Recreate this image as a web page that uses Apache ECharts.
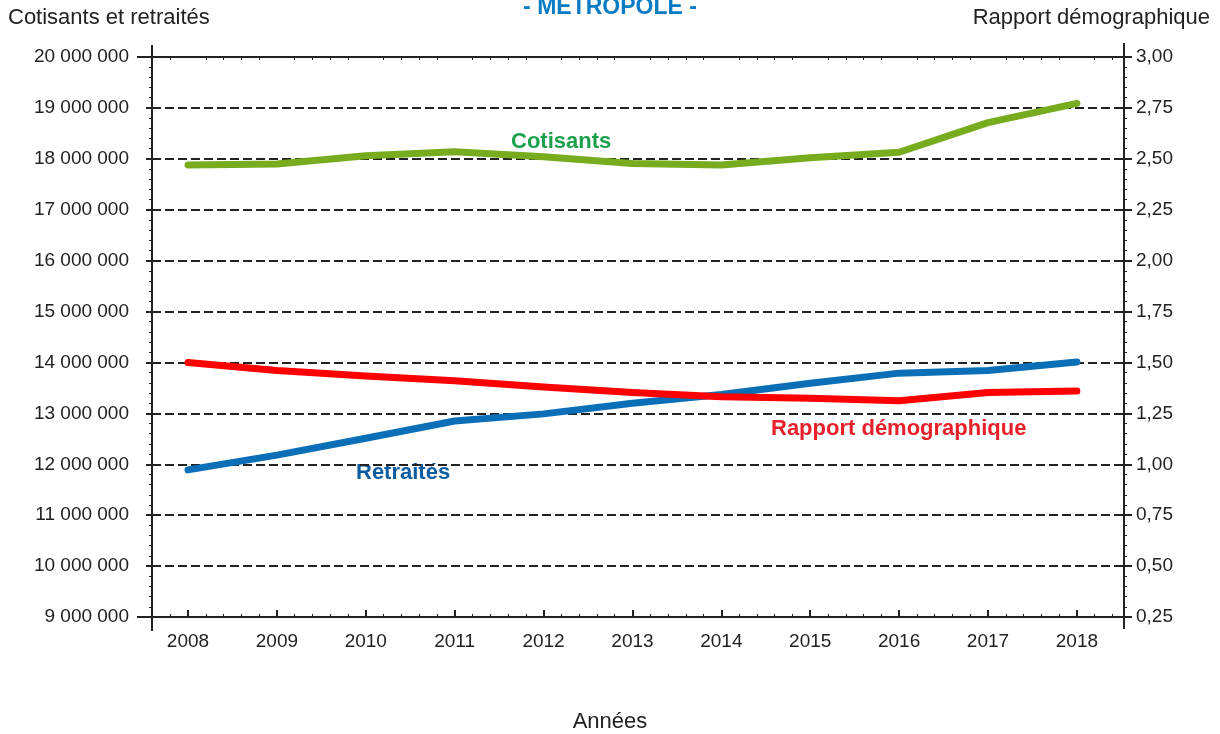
<!DOCTYPE html>
<html>
<head>
<meta charset="utf-8">
<script src="https://cdn.jsdelivr.net/npm/echarts@6/dist/echarts.min.js"></script>
<style>
  html, body { margin: 0; padding: 0; background: #fff; }
  #main { width: 1220px; height: 734px; }
</style>
</head>
<body>
<div id="main"></div>
<script>
const years = [2008, 2009, 2010, 2011, 2012, 2013, 2014, 2015, 2016, 2017, 2018];
const cotisants = [17880000, 17900000, 18060000, 18140000, 18040000, 17910000, 17880000, 18020000, 18130000, 18710000, 19090000];
const retraites = [11890000, 12180000, 12510000, 12850000, 12990000, 13200000, 13370000, 13590000, 13790000, 13840000, 14010000];
const rapport = [1.50, 1.46, 1.433, 1.41, 1.38, 1.353, 1.332, 1.324, 1.312, 1.352, 1.36];

const font = '"Liberation Sans", Arial, sans-serif';
const ink = '#222';

const pairs = arr => years.map((y, i) => [y, arr[i]]);
const fmtMillions = v => String(v).replace(/\B(?=(\d{3})+(?!\d))/g, ' ');
const fmtRatio = v => v.toFixed(2).replace('.', ',');

const chart = echarts.init(document.getElementById('main'));

const xBase = {
  type: 'value',
  min: 2007.595,
  max: 2018.53,
  splitNumber: 10,
  axisLine: { show: true, onZero: false, lineStyle: { color: ink, width: 2 } },
  splitLine: { show: false }
};

// frame overshoots of the axis lines, as in the original
const frame = [
  [137, 57, 152, 57], [137, 617, 152, 617],
  [152, 45, 152, 57], [152, 617, 152, 631],
  [1124, 43, 1124, 57], [1124, 617, 1124, 629]
].map(([x1, y1, x2, y2]) => ({
  type: 'line',
  shape: { x1, y1, x2, y2 },
  style: { stroke: ink, lineWidth: 2 },
  z: 10
}));

const option = {
  animation: false,
  grid: { left: 152, right: 96, top: 57, bottom: 117 },
  graphic: frame.concat([
    { type: 'text', left: 'center', top: -4, style: { text: '- MÉTROPOLE -', fill: '#0a7cc4', font: 'bold 23px ' + font } },
    { type: 'text', left: 8, top: 7, style: { text: 'Cotisants et retraités', fill: ink, font: '22px ' + font } },
    { type: 'text', right: 10, top: 7, style: { text: 'Rapport démographique', fill: ink, font: '22px ' + font } },
    { type: 'text', left: 'center', top: 711, style: { text: 'Années', fill: ink, font: '22px ' + font } },
    { type: 'text', left: 511, top: 131, style: { text: 'Cotisants', fill: '#1ba04c', font: 'bold 22px ' + font } },
    { type: 'text', left: 356, top: 462, style: { text: 'Retraités', fill: '#0d5ca0', font: 'bold 22px ' + font } },
    { type: 'text', left: 771, top: 418, style: { text: 'Rapport démographique', fill: '#e8202a', font: 'bold 22px ' + font } }
  ]),
  xAxis: [
    Object.assign({}, xBase, {
      position: 'bottom',
      axisTick: { show: true, inside: true, length: 7, lineStyle: { color: ink, width: 2 } },
      minorTick: { show: true, splitNumber: 5, length: 3, lineStyle: { color: ink, width: 1 } },
      axisLabel: {
        margin: 15,
        color: ink,
        fontFamily: font,
        fontSize: 19,
        formatter: v => (Math.abs(v - Math.round(v)) < 1e-6 ? String(Math.round(v)) : '')
      }
    }),
    Object.assign({}, xBase, {
      position: 'top',
      axisTick: { show: false, inside: true },
      minorTick: { show: true, splitNumber: 5, length: 3, lineStyle: { color: ink, width: 1 } },
      axisLabel: { show: false }
    })
  ],
  yAxis: [
    {
      type: 'value',
      position: 'left',
      min: 9000000,
      max: 20000000,
      interval: 1000000,
      axisLine: { show: true, lineStyle: { color: ink, width: 2 } },
      axisTick: { show: true, length: 6, lineStyle: { color: ink, width: 2 } },
      minorTick: { show: true, splitNumber: 5, length: 3, lineStyle: { color: ink, width: 1 } },
      axisLabel: { margin: 23, color: ink, fontFamily: font, fontSize: 19, formatter: fmtMillions },
      splitLine: { show: true, lineStyle: { color: ink, width: 2, type: [9, 4] } }
    },
    {
      type: 'value',
      position: 'right',
      min: 0.25,
      max: 3,
      interval: 0.25,
      axisLine: { show: true, lineStyle: { color: ink, width: 2 } },
      axisTick: { show: true, length: 8, lineStyle: { color: ink, width: 2 } },
      minorTick: { show: true, splitNumber: 5, length: 3, lineStyle: { color: ink, width: 1 } },
      axisLabel: { margin: 12, color: ink, fontFamily: font, fontSize: 19, formatter: fmtRatio },
      splitLine: { show: false }
    }
  ],
  series: [
    {
      name: 'Cotisants',
      type: 'line',
      yAxisIndex: 0,
      data: pairs(cotisants),
      symbol: 'none',
      lineStyle: { color: '#77ac1f', width: 7, cap: 'round', join: 'round' },
      z: 3
    },
    {
      name: 'Retraités',
      type: 'line',
      yAxisIndex: 0,
      data: pairs(retraites),
      symbol: 'none',
      lineStyle: { color: '#0b6fb8', width: 7, cap: 'round', join: 'round' },
      z: 3
    },
    {
      name: 'Rapport démographique',
      type: 'line',
      yAxisIndex: 1,
      data: pairs(rapport),
      symbol: 'none',
      lineStyle: { color: '#ff0000', width: 7, cap: 'round', join: 'round' },
      z: 4
    }
  ]
};

chart.setOption(option);
</script>
</body>
</html>
